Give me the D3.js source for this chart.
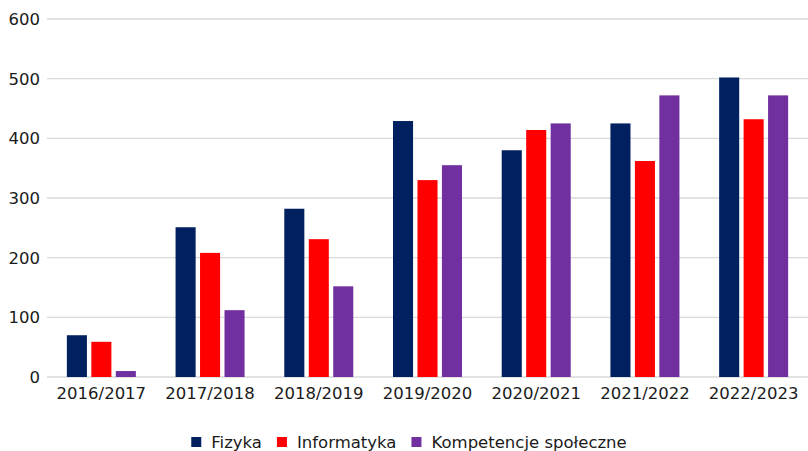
<!DOCTYPE html>
<html lang="pl">
    <head>
        <meta charset="utf-8">
        <title>Bar chart</title>
        <script type="text/javascript" src="https://cdn.jsdelivr.net/npm/d3@7"></script>
        <style>
            body { margin: 0; background: #fff; }
            text { font-family: "DejaVu Sans", sans-serif; fill: #1a1a1a; }
        </style>
    </head>
    <body>
        <script type="text/javascript">

        var w = 808;
        var h = 451;

        var years = ["2016/2017", "2017/2018", "2018/2019", "2019/2020",
                     "2020/2021", "2021/2022", "2022/2023"];
        var series = ["Fizyka", "Informatyka", "Kompetencje społeczne"];
        var fizyka      = [70, 251, 282, 429, 380, 425, 502];
        var informatyka = [59, 208, 231, 330, 414, 362, 432];
        var kompetencje = [10, 112, 152, 355, 425, 472, 472];
        var yTicks = [0, 100, 200, 300, 400, 500, 600];
        var colors = ["#002060", "#ff0000", "#7030a0"];

        var values = [fizyka, informatyka, kompetencje];

        var svg = d3.select("body")
            .append("svg")
            .attr("width", w)
            .attr("height", h);

        var x = d3.scaleBand()
            .domain(years)
            .range([47, 808]);

        var x1 = d3.scaleBand()
            .domain(series)
            .range([x.bandwidth() / 2 - 34.5, x.bandwidth() / 2 + 34.5])
            .paddingInner(0.18);

        var y = d3.scaleLinear()
            .domain([0, 600])
            .range([377, 19]);

        // gridlines
        svg.selectAll("line.grid")
           .data(yTicks)
           .enter()
           .append("line")
           .attr("class", "grid")
           .attr("x1", 47)
           .attr("x2", 808)
           .attr("y1", function(d) { return y(d); })
           .attr("y2", function(d) { return y(d); })
           .attr("stroke", "#d9d9d9")
           .attr("stroke-width", 1.4);

        // y labels
        svg.selectAll("text.ytick")
           .data(yTicks)
           .enter()
           .append("text")
           .attr("class", "ytick")
           .attr("x", 40)
           .attr("y", function(d) { return y(d); })
           .attr("dy", "0.36em")
           .attr("text-anchor", "end")
           .attr("font-size", "16.5px")
           .text(function(d) { return d; });

        // bars
        var groups = svg.selectAll("g.year")
           .data(years)
           .enter()
           .append("g")
           .attr("class", "year")
           .attr("transform", function(d) { return "translate(" + x(d) + ",0)"; });

        groups.selectAll("rect")
           .data(function(d, i) {
               return series.map(function(s, j) {
                   return { s: s, v: values[j][i], c: colors[j] };
               });
           })
           .enter()
           .append("rect")
           .attr("x", function(d) { return x1(d.s); })
           .attr("width", x1.bandwidth())
           .attr("y", function(d) { return y(d.v); })
           .attr("height", function(d) { return y(0) - y(d.v); })
           .attr("fill", function(d) { return d.c; });

        // x labels
        svg.selectAll("text.xtick")
           .data(years)
           .enter()
           .append("text")
           .attr("class", "xtick")
           .attr("x", function(d) { return x(d) + x.bandwidth() / 2; })
           .attr("y", 399)
           .attr("text-anchor", "middle")
           .attr("font-size", "16.5px")
           .text(function(d) { return d; });

        // legend
        var legend = svg.append("g");
        var pos = 0;
        series.forEach(function(s, i) {
            var item = legend.append("g").attr("transform", "translate(" + pos + ",0)");
            item.append("rect")
                .attr("x", 0)
                .attr("y", 437)
                .attr("width", 10)
                .attr("height", 10)
                .attr("fill", colors[i]);
            var t = item.append("text")
                .attr("x", 20)
                .attr("y", 448)
                .attr("font-size", "16.5px")
                .text(s);
            pos += 20 + t.node().getComputedTextLength() + 15;
        });
        var total = pos - 15;
        legend.attr("transform", "translate(" + (409 - total / 2) + ",0)");
        </script>
    </body>
</html>
